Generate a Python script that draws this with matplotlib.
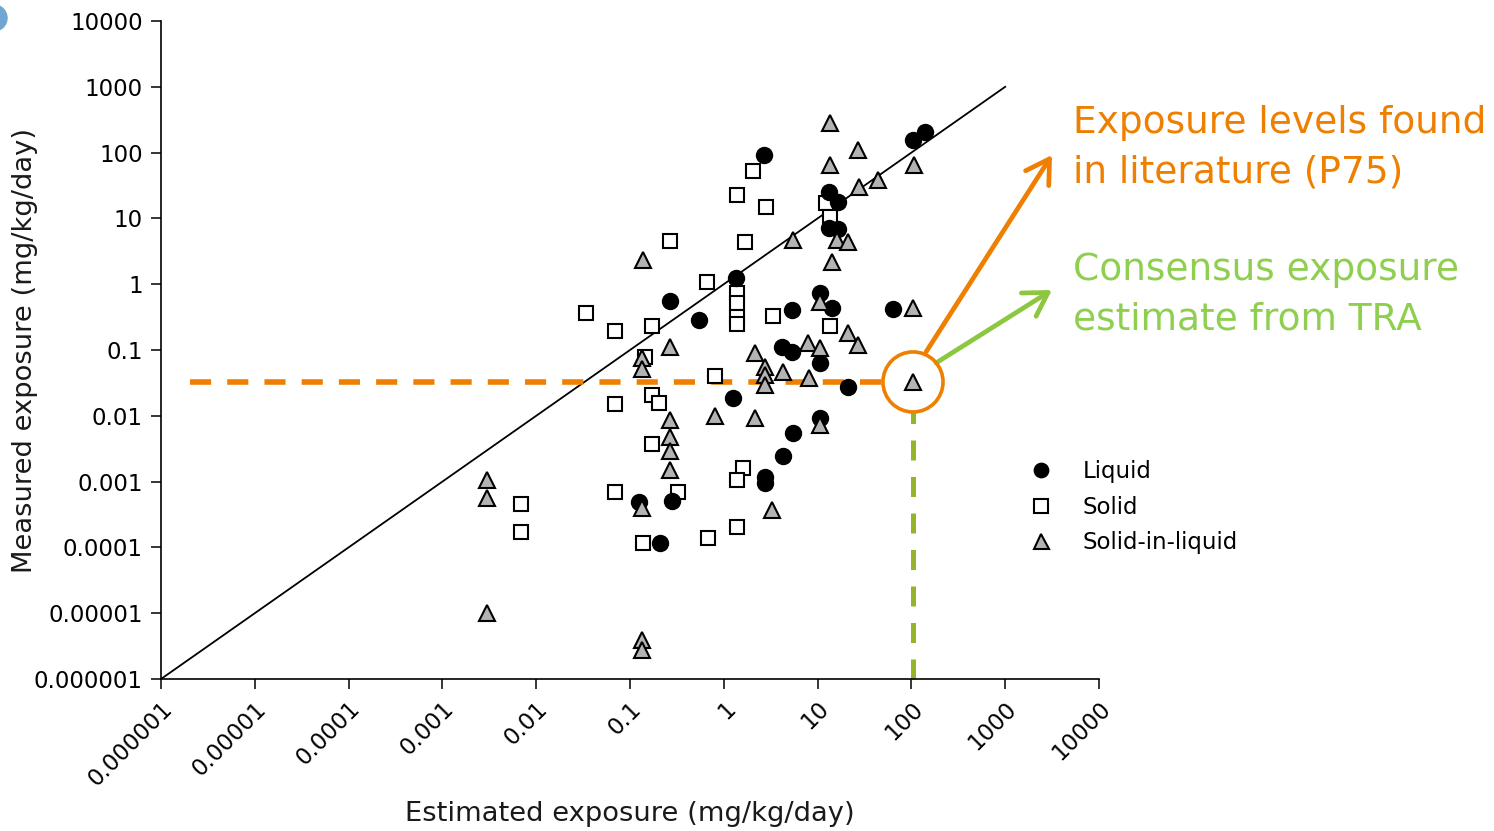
import matplotlib
matplotlib.use("Agg")
import matplotlib.pyplot as plt
import numpy as np
from matplotlib.ticker import FixedLocator, NullLocator
from matplotlib.patches import Circle
from matplotlib.transforms import IdentityTransform

plt.rcParams['font.family'] = ['DejaVu Sans']

# ---------------- data ----------------
liquid_x = [2.7, 105, 140, 13.3, 16.5, 13.3, 16.5, 0.27, 0.54, 1.35, 5.3, 10.6, 14.3, 64,
            4.17, 5.3, 10.6, 1.25, 21, 10.6, 5.5, 4.3, 2.75, 2.75, 0.125, 0.28, 0.21]
liquid_y = [92, 155, 205, 25, 18, 7.1, 6.8, 0.56, 0.29, 1.24, 0.41, 0.73, 0.43, 0.42,
            0.111, 0.093, 0.063, 0.0187, 0.0274, 0.0093, 0.0055, 0.00245, 0.00117, 0.00095,
            0.00049, 0.00051, 0.000117]

solid_x = [0.27, 0.034, 0.069, 0.172, 0.66, 2.05, 1.38, 2.82, 1.68, 1.38, 1.38, 1.38, 1.38,
           3.35, 13.5, 12.3, 13.5, 0.8, 1.6, 1.38, 1.38, 0.68, 0.145, 0.069, 0.172, 0.204,
           0.172, 0.069, 0.325, 0.0069, 0.0069, 0.138]
solid_y = [4.5, 0.365, 0.195, 0.23, 1.08, 52, 22.7, 14.9, 4.4, 0.73, 0.52, 0.32, 0.25,
           0.33, 0.23, 17, 10.5, 0.040, 0.0016, 0.00106, 0.000204, 0.000139, 0.078, 0.0151,
           0.0207, 0.0157, 0.0037, 0.0007, 0.0007, 0.00046, 0.000171, 0.000117]

sil_x = [0.138, 0.267, 13.5, 27, 13.5, 107, 44, 27.6, 5.5, 16, 21, 14.3, 10.6, 104, 21, 27,
         7.9, 10.6, 2.15, 2.75, 2.75, 2.75, 4.3, 8.1, 0.8, 2.15, 10.6, 3.27, 104, 0.134,
         0.134, 0.267, 0.267, 0.267, 0.267, 0.003, 0.003, 0.134, 0.003, 0.134, 0.134]
sil_y = [2.33, 0.111, 280, 110, 65, 65, 38, 30, 4.7, 4.7, 4.4, 2.17, 0.54, 0.43, 0.18, 0.119,
         0.128, 0.107, 0.09, 0.055, 0.042, 0.029, 0.046, 0.0375, 0.0099, 0.0093, 0.0072,
         0.00037, 0.0327, 0.075, 0.051, 0.0086, 0.0048, 0.0029, 0.0015, 0.00106, 0.00056,
         0.0004, 1e-5, 3.9e-6, 2.8e-6]

tick_values = [1e-6, 1e-5, 1e-4, 1e-3, 1e-2, 1e-1, 1, 10, 100, 1000, 10000]
tick_labels = ['0.000001', '0.00001', '0.0001', '0.001', '0.01', '0.1', '1', '10', '100',
               '1000', '10000']

identity_line = [1e-6, 1000]

# highlighted point: consensus estimate (x) and literature P75 (y)
tra_estimate = 104
lit_p75 = 0.0327
h_line_start = 2.04e-6
h_line_end = 50
v_line_top = 0.0114

ORANGE = '#EE7F00'
GREEN_TXT = '#8FCF50'
GREEN_DASH = '#94B52A'

# ---------------- figure ----------------
W, H = 1494, 831
fig = plt.figure(figsize=(W / 100, H / 100), dpi=100)
ax = fig.add_axes([161 / W, 1 - 679 / H, (1099 - 161) / W, (679 - 21) / H])
ax.set_xscale('log')
ax.set_yscale('log')
ax.set_xlim(1e-6, 1e4)
ax.set_ylim(1e-6, 1e4)

for s in ['top', 'right']:
    ax.spines[s].set_visible(False)
for s in ['left', 'bottom']:
    ax.spines[s].set_linewidth(1.2)

ax.xaxis.set_major_locator(FixedLocator(tick_values))
ax.yaxis.set_major_locator(FixedLocator(tick_values))
ax.xaxis.set_minor_locator(NullLocator())
ax.yaxis.set_minor_locator(NullLocator())
ax.set_xticklabels(tick_labels, rotation=45, ha='right', va='top', rotation_mode='anchor')
ax.set_yticklabels(tick_labels)
ax.tick_params(direction='out', length=7, width=1.1, labelsize=16.5, pad=6)

# identity line
ax.plot(identity_line, identity_line, color='black', lw=1.3, zorder=1)

# data
ax.plot(solid_x, solid_y, ls='none', marker='s', ms=10.5, mfc='white', mec='black',
        mew=1.5, zorder=3, label='Solid')
ax.plot(liquid_x, liquid_y, ls='none', marker='o', ms=11.5, mfc='black', mec='black',
        mew=1, zorder=4, label='Liquid')
ax.plot(sil_x, sil_y, ls='none', marker='^', ms=12, mfc='#B3B3B3', mec='black',
        mew=1.5, zorder=5, label='Solid-in-liquid')

# dashed guide lines
ax.plot([h_line_start, h_line_end], [lit_p75, lit_p75], color=ORANGE, lw=4,
        dashes=(3.8, 2.9), zorder=2, solid_capstyle='butt', dash_capstyle='butt')
ax.plot([tra_estimate, tra_estimate], [1e-6, v_line_top], color=GREEN_DASH, lw=3.6,
        dashes=(4.0, 3.3), zorder=2, clip_on=False, dash_capstyle='butt')
# highlight circle
ax.scatter([tra_estimate], [lit_p75], s=1870, facecolors='none', edgecolors=ORANGE,
           linewidths=2.6, zorder=6, clip_on=False)

# legend
handles, labels = ax.get_legend_handles_labels()
order = [1, 0, 2]
leg = ax.legend([handles[i] for i in order], [labels[i] for i in order],
                loc='upper left', bbox_to_anchor=(1028 / W, 1 - 460 / H),
                bbox_transform=fig.transFigure, frameon=False, fontsize=16.5,
                markerscale=0.9, handlelength=1.1, handletextpad=1.3,
                labelspacing=0.55, borderpad=0, borderaxespad=0)

# axis labels
fig.text(630 / W, 1 - 814 / H, 'Estimated exposure (mg/kg/day)', ha='center', va='center',
         fontsize=19.7, color='#1a1a1a')
fig.text(25 / W, 1 - 350 / H, 'Measured exposure (mg/kg/day)', ha='center', va='center',
         rotation=90, fontsize=19.7, color='#1a1a1a')

# annotation texts
fs_ann = 27
fig.text(1073 / W, 1 - 133 / H, 'Exposure levels found', color=ORANGE, fontsize=fs_ann,
         va='baseline', ha='left')
fig.text(1073 / W, 1 - 183 / H, 'in literature (P75)', color=ORANGE, fontsize=fs_ann,
         va='baseline', ha='left')
fig.text(1073 / W, 1 - 280 / H, 'Consensus exposure', color=GREEN_TXT, fontsize=fs_ann,
         va='baseline', ha='left')
fig.text(1073 / W, 1 - 330 / H, 'estimate from TRA', color=GREEN_TXT, fontsize=fs_ann,
         va='baseline', ha='left')

# arrows
ax.annotate('', xy=(1052 / W, 1 - 155 / H), xytext=(926 / W, 1 - 352 / H),
            xycoords='figure fraction', textcoords='figure fraction',
            arrowprops=dict(arrowstyle='->,head_length=0.75,head_width=0.45', color=ORANGE,
                            lw=3.4, shrinkA=0, shrinkB=0, mutation_scale=22))
ax.annotate('', xy=(1052 / W, 1 - 290 / H), xytext=(936 / W, 1 - 363 / H),
            xycoords='figure fraction', textcoords='figure fraction',
            arrowprops=dict(arrowstyle='->,head_length=0.75,head_width=0.45', color='#8DC63F',
                            lw=3.4, shrinkA=0, shrinkB=0, mutation_scale=22))

# small blue corner element
fig.add_artist(Circle((-6, H - 18), 13, transform=IdentityTransform(), color='#6FA6D3',
                      zorder=0))

fig.savefig('out.png', dpi=100)
